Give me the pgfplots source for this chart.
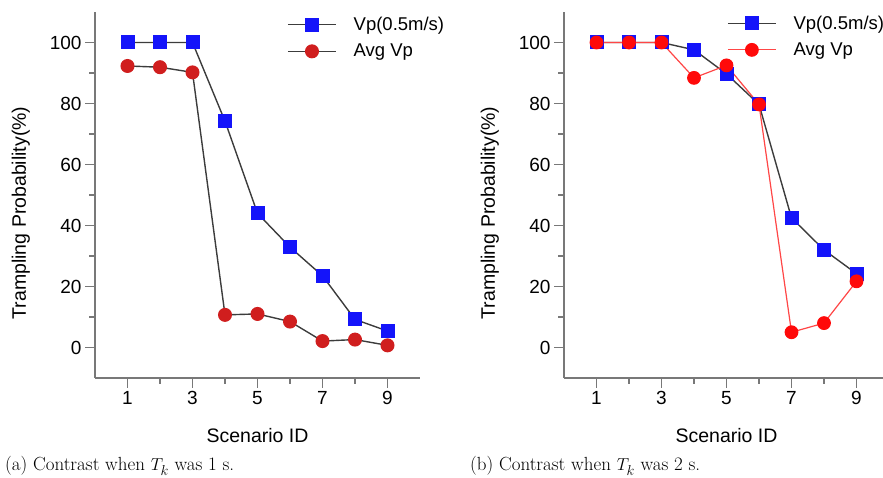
\documentclass[border=0pt]{standalone}
\usepackage{fontspec}
\setmainfont{Liberation Sans}
\newfontfamily\capfont{Latin Modern Roman}
\usepackage{pgfplots}
\pgfplotsset{compat=1.18}

\definecolor{linegray}{RGB}{60,60,60}
\definecolor{axgray}{RGB}{120,120,120}
\definecolor{vblue}{RGB}{20,20,250}
\definecolor{dred}{RGB}{208,30,30}
\definecolor{bred}{RGB}{255,10,10}
\definecolor{lred}{RGB}{255,70,70}

\pgfplotsset{
  trample/.style={
    scale only axis, width=325pt, height=366pt,
    xmin=0, xmax=10, ymin=-10, ymax=110,
    axis lines=left,
    axis line style={axgray, line width=1.3pt, -},
    xtick={1,3,5,7,9}, minor xtick={2,4,6,8},
    ytick={0,20,...,100}, minor ytick={10,30,...,90},
    tick align=outside, major tick length=10pt, minor tick length=6pt,
    every tick/.style={axgray, line width=1.3pt},
    /pgf/number format/assume math mode=true,
    tick label style={font=\fontsize{19}{21}\selectfont, black},
    label style={font=\fontsize{19.5}{22}\selectfont},
    xlabel={Scenario ID},
    ylabel={Trampling Probability(\%)},
    xlabel style={at={(axis description cs:0.5,-0.156)}, anchor=center},
    ylabel style={at={(axis description cs:-0.228,0.451)}, anchor=center},
    legend cell align=left,
    legend image code/.code={\draw[##1,mark repeat=2,mark phase=2] plot coordinates {(0pt,0pt) (24pt,0pt) (48pt,0pt)};},
    legend style={draw=none, fill=none, inner sep=0pt, anchor=north west,
      font=\fontsize{18.5}{21}\selectfont, row sep=12pt, column sep=17pt,
      nodes={inner sep=0pt, anchor=west}},
  }
}

\begin{document}
\begin{tikzpicture}
\useasboundingbox (0pt,0pt) rectangle (883pt,478pt);

% (a) T_k = 1 s
\begin{axis}[trample, at={(95pt,100pt)}, anchor=south west,
  legend style={at={(axis description cs:0.591,0.986)}}]
\addplot[color=linegray, line width=1.4pt, mark=square*, mark size=6.3pt,
  mark options={fill=vblue, draw=vblue}] coordinates {
  (1,100) (2,100) (3,100) (4,74.2) (5,44.0) (6,32.9) (7,23.5) (8,9.2) (9,5.4)};
\addlegendentry{Vp(0.5m/s)}
\addplot[color=linegray, line width=1.4pt, mark=*, mark size=6.3pt,
  mark options={fill=dred, draw=dred}] coordinates {
  (1,92.3) (2,91.9) (3,90.2) (4,10.7) (5,11.0) (6,8.5) (7,2.1) (8,2.6) (9,0.7)};
\addlegendentry{Avg Vp}
\end{axis}

% (b) T_k = 2 s
\begin{axis}[trample, at={(564pt,100pt)}, anchor=south west,
  legend style={at={(axis description cs:0.5015,0.99)}}]
\addplot[color=linegray, line width=1.4pt, mark=square*, mark size=6.3pt,
  mark options={fill=vblue, draw=vblue}] coordinates {
  (1,100) (2,100) (3,100) (4,97.6) (5,89.7) (6,79.7) (7,42.5) (8,32.0) (9,24.2)};
\addlegendentry{Vp(0.5m/s)}
\addplot[color=lred, line width=1.2pt, mark=*, mark size=6.3pt,
  mark options={fill=bred, draw=bred}] coordinates {
  (1,100) (2,100) (3,100) (4,88.4) (5,92.5) (6,79.7) (7,5.0) (8,8.0) (9,21.7)};
\addlegendentry{Avg Vp}
\end{axis}

\node[anchor=base west, inner sep=0pt, font=\capfont\fontsize{19}{22}\selectfont]
  at (5pt,7pt) {(a) Contrast when $T_k$ was 1 s.};
\node[anchor=base west, inner sep=0pt, font=\capfont\fontsize{19}{22}\selectfont]
  at (470pt,7pt) {(b) Contrast when $T_k$ was 2 s.};
\end{tikzpicture}
\end{document}
